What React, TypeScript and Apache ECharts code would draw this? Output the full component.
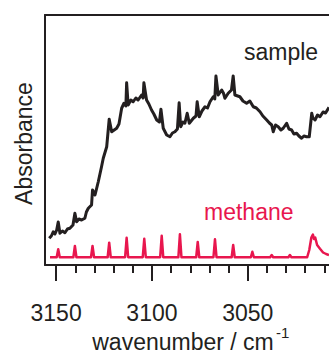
import React, { useEffect, useRef } from "react";
import * as echarts from "echarts";

const FONT = '"Liberation Sans", Arial, Helvetica, sans-serif';
const INK = "#231f20";
const RED = "#e8164e";

// x-axis range (wavenumber, cm^-1), reversed axis
const xMin = 3007.6;
const xMax = 3155.8;
const majorTicks = [3150, 3100, 3050];
const minorTicks = [3140, 3130, 3120, 3110, 3090, 3080, 3070, 3060, 3040, 3030, 3020, 3010];

// sample spectrum
const sampleWavenumber = [
  3153.6, 3152.5, 3151.5, 3150.6, 3149.7, 3148.9, 3148.0, 3146.7, 3145.4, 3144.1, 3142.8, 3141.2, 3140.2, 3139.3,
  3138.1, 3136.7, 3135.0, 3134.2, 3133.2, 3131.5, 3131.0, 3129.7, 3128.0, 3126.3, 3125.4, 3123.6, 3122.3,
  3121.0, 3118.4, 3117.2, 3115.8, 3114.6, 3113.6, 3113.2, 3112.4, 3111.0, 3109.8, 3108.4, 3107.2, 3105.4,
  3104.6, 3104.2, 3102.8, 3101.6, 3100.2, 3099.0, 3097.5, 3096.1, 3095.3, 3094.1, 3092.3, 3090.6, 3089.3,
  3088.0, 3086.7, 3085.8, 3085.0, 3083.8, 3082.8, 3081.6, 3080.5, 3078.4, 3077.0, 3076.4, 3075.3, 3073.9,
  3072.3, 3071.0, 3069.7, 3068.0, 3067.2, 3066.6, 3065.4, 3063.6, 3062.7, 3061.9, 3060.2, 3058.5, 3057.6,
  3056.7, 3054.1, 3052.5, 3050.6, 3048.9, 3047.1, 3045.5, 3043.6, 3042.1, 3040.1, 3038.7, 3037.5, 3036.7,
  3035.5, 3034.1, 3032.7, 3031.5, 3029.7, 3028.5, 3027.1, 3025.9, 3024.5, 3023.3, 3021.9, 3020.7, 3019.3,
  3017.9, 3016.6, 3016.0, 3014.9, 3013.6, 3012.3, 3010.7, 3009.4, 3007.9, 3007.6,
];
const sampleValues = [
  10.7, 11.6, 13.3, 12.4, 14.0, 17.2, 12.7, 13.6, 12.9, 14.4, 14.7, 16.0, 20.7, 17.3,
  18.4, 18.0, 18.7, 21.2, 22.7, 24.0, 30.0, 28.0, 33.3, 39.3, 42.7, 47.3, 58.3,
  53.3, 54.7, 56.4, 62.7, 64.7, 63.6, 72.9, 64.0, 66.0, 65.3, 66.8, 66.0, 68.0,
  66.8, 72.9, 66.0, 64.4, 62.0, 60.4, 58.0, 57.2, 62.3, 54.7, 52.0, 51.3, 52.8,
  53.3, 54.4, 64.9, 55.3, 57.2, 56.7, 60.7, 56.7, 58.7, 59.6, 65.3, 59.3, 61.6,
  63.3, 62.8, 65.3, 67.3, 66.4, 75.6, 68.0, 70.0, 68.8, 66.7, 68.7, 70.0, 75.6,
  68.0, 67.3, 65.6, 64.7, 65.6, 63.3, 62.8, 61.3, 59.6, 58.0, 56.8, 56.0, 53.3,
  56.0, 55.3, 54.0, 54.7, 56.7, 54.4, 54.0, 52.4, 52.7, 51.6, 50.7, 51.6, 51.3,
  51.3, 60.7, 58.8, 58.0, 60.0, 59.3, 61.2, 60.8, 62.7, 63.0,
];

// methane reference spectrum
const methaneWavenumber = [
  3153.2, 3149.7, 3148.9, 3148.1, 3141.0, 3140.2, 3139.4, 3131.8, 3131.0, 3130.2, 3123.1, 3122.3, 3121.5,
  3114.0, 3113.2, 3112.4, 3104.8, 3104.0, 3103.2, 3095.7, 3094.9, 3094.1, 3086.2, 3085.4, 3084.6, 3076.9,
  3076.1, 3075.3, 3067.9, 3067.1, 3066.3, 3058.4, 3057.6, 3056.8, 3048.4, 3047.6, 3046.8, 3038.3, 3037.5,
  3036.7, 3028.8, 3028.0, 3027.2, 3019.0, 3017.9, 3016.8, 3016.0, 3015.4, 3014.8, 3013.8, 3012.3, 3010.7,
  3009.1, 3007.6,
];
const methaneValues = [
  3.1, 3.1, 6.3, 3.1, 3.1, 7.6, 3.1, 3.1, 7.6, 3.1, 3.1, 8.9, 3.1,
  3.1, 10.9, 3.1, 3.1, 10.5, 3.1, 3.1, 11.7, 3.1, 3.1, 12.3, 3.1, 3.1,
  9.2, 3.1, 3.1, 10.3, 3.1, 3.1, 8.0, 3.1, 3.1, 5.3, 3.1, 3.1, 4.0,
  3.1, 3.1, 4.0, 3.1, 3.1, 6.0, 11.0, 12.2, 10.4, 11.0, 8.0, 6.5, 5.0,
  4.4, 4.0,
];

export default function App() {
  const ref = useRef<HTMLDivElement>(null);
  useEffect(() => {
    document.body.style.margin = "0";
    if (!ref.current) return;
    const chart = echarts.init(ref.current, null, { renderer: "svg" });
    const axisLineStyle = { color: INK, width: 2 };
    const baseX = {
      type: "value" as const,
      inverse: true,
      min: xMin,
      max: xMax,
      splitLine: { show: false },
    };
    chart.setOption({
      animation: false,
      backgroundColor: "#ffffff",
      grid: { left: 45, right: 0, top: 15, bottom: 89, containLabel: false },
      xAxis: [
        {
          ...baseX,
          position: "bottom",
          axisLine: { show: true, lineStyle: axisLineStyle },
          axisTick: { show: true, inside: false, length: 16, customValues: majorTicks, lineStyle: axisLineStyle },
          axisLabel: {
            show: true,
            customValues: majorTicks,
            margin: 36,
            fontSize: 23,
            fontFamily: FONT,
            color: INK,
            formatter: (v: number) => String(Math.round(v)),
          },
        },
        {
          ...baseX,
          position: "bottom",
          axisLine: { show: false },
          axisTick: { show: true, inside: false, length: 8, customValues: minorTicks, lineStyle: axisLineStyle },
          axisLabel: { show: false },
        },
        {
          ...baseX,
          position: "top",
          axisLine: { show: true, lineStyle: axisLineStyle },
          axisTick: { show: false },
          axisLabel: { show: false },
        },
      ],
      yAxis: {
        type: "value",
        min: 0,
        max: 100,
        axisLine: { show: true, lineStyle: axisLineStyle },
        axisTick: { show: false },
        axisLabel: { show: false },
        splitLine: { show: false },
      },
      series: [
        {
          name: "sample",
          type: "line",
          xAxisIndex: 0,
          symbol: "none",
          lineStyle: { color: INK, width: 3, join: "round" },
          data: sampleWavenumber.map((w, i) => [w, sampleValues[i]]),
        },
        {
          name: "methane",
          type: "line",
          xAxisIndex: 0,
          symbol: "none",
          lineStyle: { color: RED, width: 2.5, join: "round" },
          data: methaneWavenumber.map((w, i) => [w, methaneValues[i]]),
        },
      ],
      graphic: [
        {
          type: "text",
          x: 24,
          y: 143.5,
          rotation: Math.PI / 2,
          style: { text: "Absorbance", fontSize: 23, fontFamily: FONT, fill: INK, align: "center", verticalAlign: "middle" },
        },
        {
          type: "text",
          x: 183,
          y: 342,
          style: { text: "wavenumber / cm", fontSize: 23, fontFamily: FONT, fill: INK, align: "center", verticalAlign: "middle" },
        },
        {
          type: "text",
          x: 276,
          y: 332,
          style: { text: "-1", fontSize: 15, fontFamily: FONT, fill: INK, align: "left", verticalAlign: "middle" },
        },
        {
          type: "text",
          x: 244,
          y: 51.5,
          style: { text: "sample", fontSize: 23, fontFamily: FONT, fill: INK, align: "left", verticalAlign: "middle" },
        },
        {
          type: "text",
          x: 204,
          y: 211.5,
          style: { text: "methane", fontSize: 23, fontFamily: FONT, fill: RED, align: "left", verticalAlign: "middle" },
        },
      ],
    });
    return () => chart.dispose();
  }, []);
  return <div ref={ref} style={{ width: 329, height: 354 }} />;
}
